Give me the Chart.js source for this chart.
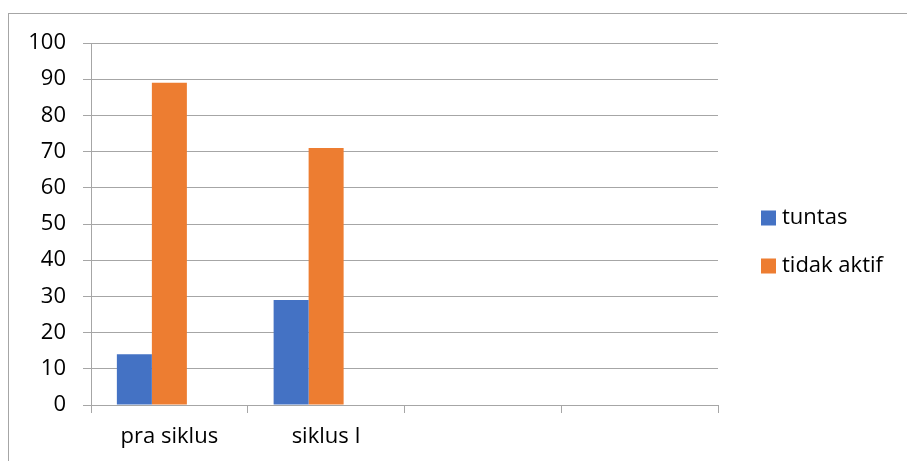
<!DOCTYPE html>
<html>
<head>
<meta charset="utf-8">
<script src="https://cdn.jsdelivr.net/npm/chart.js@4/dist/chart.umd.min.js"></script>
<style>
  html, body { margin: 0; padding: 0; background: #fff; overflow: hidden; }
  #wrap { position: relative; width: 907px; height: 461px; }
  #frame { position: absolute; left: 8px; top: 13px; width: 1000px; height: 1000px; border: 1px solid #a6a6a6; box-sizing: border-box; }
  #c { position: absolute; left: 0; top: 0; }
</style>
</head>
<body>
<div id="wrap">
  <div id="frame"></div>
  <canvas id="c" width="907" height="461"></canvas>
</div>
<script>
// Categories along the x axis (the last two slots are left empty)
const categories = ['pra siklus', 'siklus I', '', ''];
// Series values
const tuntas = [14, 29, null, null];
const tidakAktif = [89, 71, null, null];
// Third series slot, kept empty
const seriesThree = [null, null, null, null];
// Y axis range
const yMin = 0;
const yMax = 100;
const yStep = 10;

const seriesLabels = ['tuntas', 'tidak aktif', ''];
const seriesColors = ['#4472C4', '#ED7D31', '#A5A5A5'];

const FONT = '"Open Sans", "Noto Sans", sans-serif';
const FONT_SIZE = 22;
const TEXT = '#000000';
const GRID = '#a6a6a6';

// Legend drawn at the right of the plot, boxes with labels
const sideLegend = {
  id: 'sideLegend',
  afterDraw(chart) {
    const ctx = chart.ctx;
    const area = chart.chartArea;
    const items = chart.data.datasets.filter(d => d.label);
    const step = 48;
    const box = 15;
    const x = area.right + 43;
    const midY = 242;
    const startY = midY - (items.length - 1) * step / 2;
    ctx.save();
    ctx.font = FONT_SIZE + 'px ' + FONT;
    ctx.textBaseline = 'middle';
    ctx.textAlign = 'left';
    items.forEach((d, i) => {
      const cy = startY + i * step;
      ctx.fillStyle = d.backgroundColor;
      ctx.fillRect(x, cy - box / 2, box, box);
      ctx.fillStyle = TEXT;
      ctx.fillText(d.label, x + box + 6, cy);
    });
    ctx.restore();
  }
};

new Chart(document.getElementById('c'), {
  type: 'bar',
  data: {
    labels: categories,
    datasets: [
      { label: seriesLabels[0], data: tuntas, backgroundColor: seriesColors[0] },
      { label: seriesLabels[1], data: tidakAktif, backgroundColor: seriesColors[1] },
      { label: seriesLabels[2], data: seriesThree, backgroundColor: seriesColors[2] }
    ]
  },
  options: {
    responsive: false,
    animation: false,
    devicePixelRatio: 1,
    layout: { padding: { left: 0, top: 43, right: 189, bottom: 0 } },
    datasets: {
      bar: { categoryPercentage: 0.67, barPercentage: 1.0 }
    },
    plugins: {
      legend: { display: false },
      tooltip: { enabled: false }
    },
    scales: {
      x: {
        grid: {
          offset: true,
          drawOnChartArea: false,
          drawTicks: true,
          tickLength: 8,
          color: GRID
        },
        border: { display: true, color: GRID },
        ticks: {
          color: TEXT,
          font: { family: FONT, size: FONT_SIZE },
          padding: 11,
          maxRotation: 0,
          autoSkip: false
        },
        afterFit(scale) { scale.height = 56; }
      },
      y: {
        min: yMin,
        max: yMax,
        grid: { color: GRID, tickLength: 8 },
        border: { display: true, color: GRID },
        ticks: {
          stepSize: yStep,
          color: TEXT,
          font: { family: FONT, size: FONT_SIZE },
          padding: 17
        },
        afterFit(scale) { scale.width = 91; }
      }
    }
  },
  plugins: [sideLegend]
});
</script>
</body>
</html>
